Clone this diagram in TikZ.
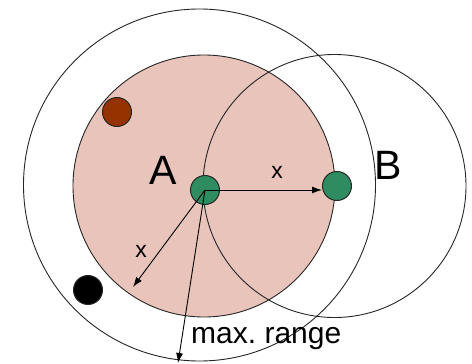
\documentclass[tikz,border=0pt]{standalone}
\usepackage{fontspec}
\setmainfont{Liberation Sans}
\usetikzlibrary{arrows.meta}
\definecolor{rangefill}{RGB}{232,196,186}
\definecolor{nodegreen}{RGB}{46,140,96}
\definecolor{nodebrown}{RGB}{150,50,0}
\tikzset{
  ring/.style={draw=black!85, line width=0.9pt},
  station/.style={circle, draw=black!85, line width=1pt, minimum size=29pt, inner sep=0pt},
  arr/.style={line width=0.9pt, -{Latex[length=10pt,width=7pt]}},
  biglabel/.style={font=\fontsize{41}{41}\selectfont, inner sep=0pt},
  smalllabel/.style={font=\fontsize{23}{23}\selectfont, inner sep=0pt},
}
\begin{document}
\begin{tikzpicture}[x=1pt,y=-1pt]
\useasboundingbox (0,0) rectangle (472,364);
\fill[rangefill] (204,186) circle (131pt);
\draw[ring] (204,186) circle (131pt);
\draw[ring] (199.5,185) circle (176pt);
\draw[ring] (334.5,186) circle (131.5pt);
\node[station, fill=nodebrown] (brown) at (117,112) {};
\node[station, fill=black] (black) at (88,290) {};
\node[station, fill=nodegreen] (A) at (205,190) {};
\node[station, fill=nodegreen] (B) at (337,186) {};
\node[biglabel] (labA) at (163,170) {A};
\node[biglabel] (labB) at (388,165) {B};
\coordinate (xend) at (133,287);
\coordinate (rend) at (178,363);
\draw[arr] (A.center) -- (A.center -| B.west);
\draw[arr] (A.center) -- (xend);
\draw[arr] (A.center) -- (rend);
\node[smalllabel] (x1) at (277,172) {x};
\node[smalllabel] (x2) at (141,251) {x};
\node[font=\fontsize{30}{30}\selectfont, inner sep=0pt, anchor=west] (mr) at (191,339) {max.\ range};
\end{tikzpicture}
\end{document}
